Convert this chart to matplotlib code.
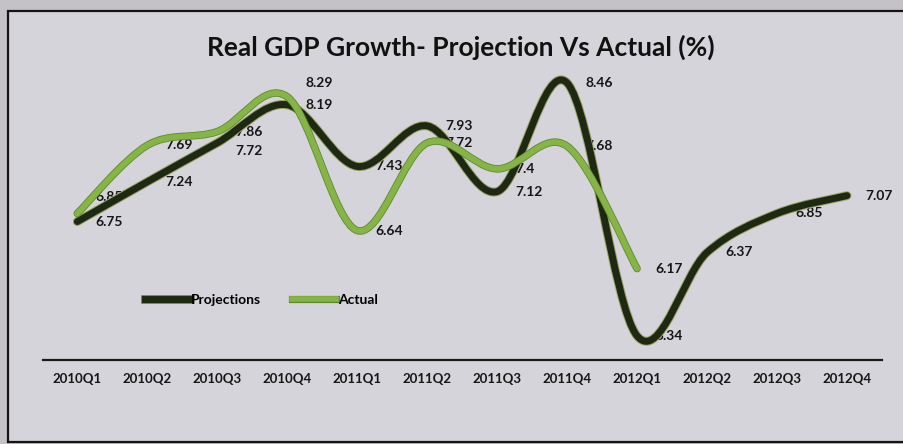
import matplotlib.pyplot as plt
import matplotlib.patheffects as pe
from matplotlib.path import Path
from matplotlib.patches import PathPatch, Rectangle
from matplotlib.lines import Line2D
import numpy as np

# Crescimento do PIB real: projeção x realizado
trimestres = ['2010Q1', '2010Q2', '2010Q3', '2010Q4', '2011Q1', '2011Q2',
              '2011Q3', '2011Q4', '2012Q1', '2012Q2', '2012Q3', '2012Q4']
projecoes = [6.75, 7.24, 7.72, 8.19, 7.43, 7.93, 7.12, 8.46, 5.34, 6.37, 6.85, 7.07]
realizado = [6.85, 7.69, 7.86, 8.29, 6.64, 7.72, 7.4, 7.68, 6.17]

cor_proj = '#1d2912'
cor_real = '#86b447'

plt.rcParams['font.family'] = ['Lato', 'DejaVu Sans']


def curva_suave(ys):
    # linha suavizada (bezier tipo catmull-rom) passando pelos pontos
    pts = np.column_stack([np.arange(len(ys)), ys]).astype(float)
    n = len(pts)
    verts = [pts[0]]
    codes = [Path.MOVETO]
    for i in range(n - 1):
        p0 = pts[max(i - 1, 0)]
        p1 = pts[i]
        p2 = pts[i + 1]
        p3 = pts[min(i + 2, n - 1)]
        verts += [p1 + (p2 - p0) / 6, p2 - (p3 - p1) / 6, p2]
        codes += [Path.CURVE4] * 3
    return Path(verts, codes)


fig = plt.figure(figsize=(9.04, 4.44), dpi=100, facecolor='#c4c2c6')
fig.patches.append(Rectangle((8 / 904, 2 / 444), 1.0, 431 / 444, transform=fig.transFigure,
                             facecolor='#d4d4da', edgecolor='#141414', linewidth=1.6, zorder=-1))

ax = fig.add_axes([43 / 904, 84 / 444, 839 / 904, 316 / 444])
ax.set_facecolor('none')
ax.set_xlim(-0.49, 11.5)
ax.set_ylim(5.043, 8.94)

ax.add_patch(PathPatch(curva_suave(projecoes), fill=False, edgecolor=cor_proj, linewidth=5,
                       capstyle='round', joinstyle='round', zorder=3,
                       path_effects=[pe.Stroke(linewidth=6.4, foreground='#9aa266'), pe.Normal()]))
ax.add_patch(PathPatch(curva_suave(realizado), fill=False, edgecolor=cor_real, linewidth=4.2,
                       capstyle='round', joinstyle='round', zorder=4,
                       path_effects=[pe.Stroke(linewidth=5.4, foreground='#5f8a30'), pe.Normal()]))

# rótulos de dados à direita de cada ponto
ajuste_real = {0: 12, 3: 10}
ajuste_proj = {2: -6}
for i, v in enumerate(projecoes):
    ax.annotate(f'{v:g}', (i, v), xytext=(13, ajuste_proj.get(i, 0)), textcoords='offset points',
                ha='left', va='center', fontsize=10, fontweight='bold', color='#161616', zorder=2)
for i, v in enumerate(realizado):
    ax.annotate(f'{v:g}', (i, v), xytext=(13, ajuste_real.get(i, 0)), textcoords='offset points',
                ha='left', va='center', fontsize=10, fontweight='bold', color='#161616', zorder=2)

ax.set_xticks(range(len(trimestres)))
ax.set_xticklabels(trimestres, fontsize=9.5, fontweight='bold', color='#161616')
ax.tick_params(axis='x', length=0, pad=9)
ax.set_yticks([])
for lado in ['top', 'right', 'left']:
    ax.spines[lado].set_visible(False)
ax.spines['bottom'].set_color('#1a1a1a')
ax.spines['bottom'].set_linewidth(1.6)

legenda = [Line2D([], [], color=cor_proj, linewidth=5,
                  path_effects=[pe.Stroke(linewidth=6.2, foreground='#6d7548'), pe.Normal()]),
           Line2D([], [], color=cor_real, linewidth=4,
                  path_effects=[pe.Stroke(linewidth=5.2, foreground='#5f8a30'), pe.Normal()])]
ax.legend(legenda, ['Projections', 'Actual'], loc='center left', bbox_to_anchor=(0.122, 0.19),
          ncol=2, frameon=False, handlelength=3.2, handletextpad=0.1, columnspacing=2.2,
          borderpad=0, borderaxespad=0, prop={'size': 10, 'weight': 'bold'})

fig.text(461 / 904, 1 - 47 / 444, 'Real GDP Growth- Projection Vs Actual (%)', ha='center',
         va='center', fontsize=19, fontweight='bold', color='#111111')

fig.savefig('out.png', dpi=100, facecolor=fig.get_facecolor())
